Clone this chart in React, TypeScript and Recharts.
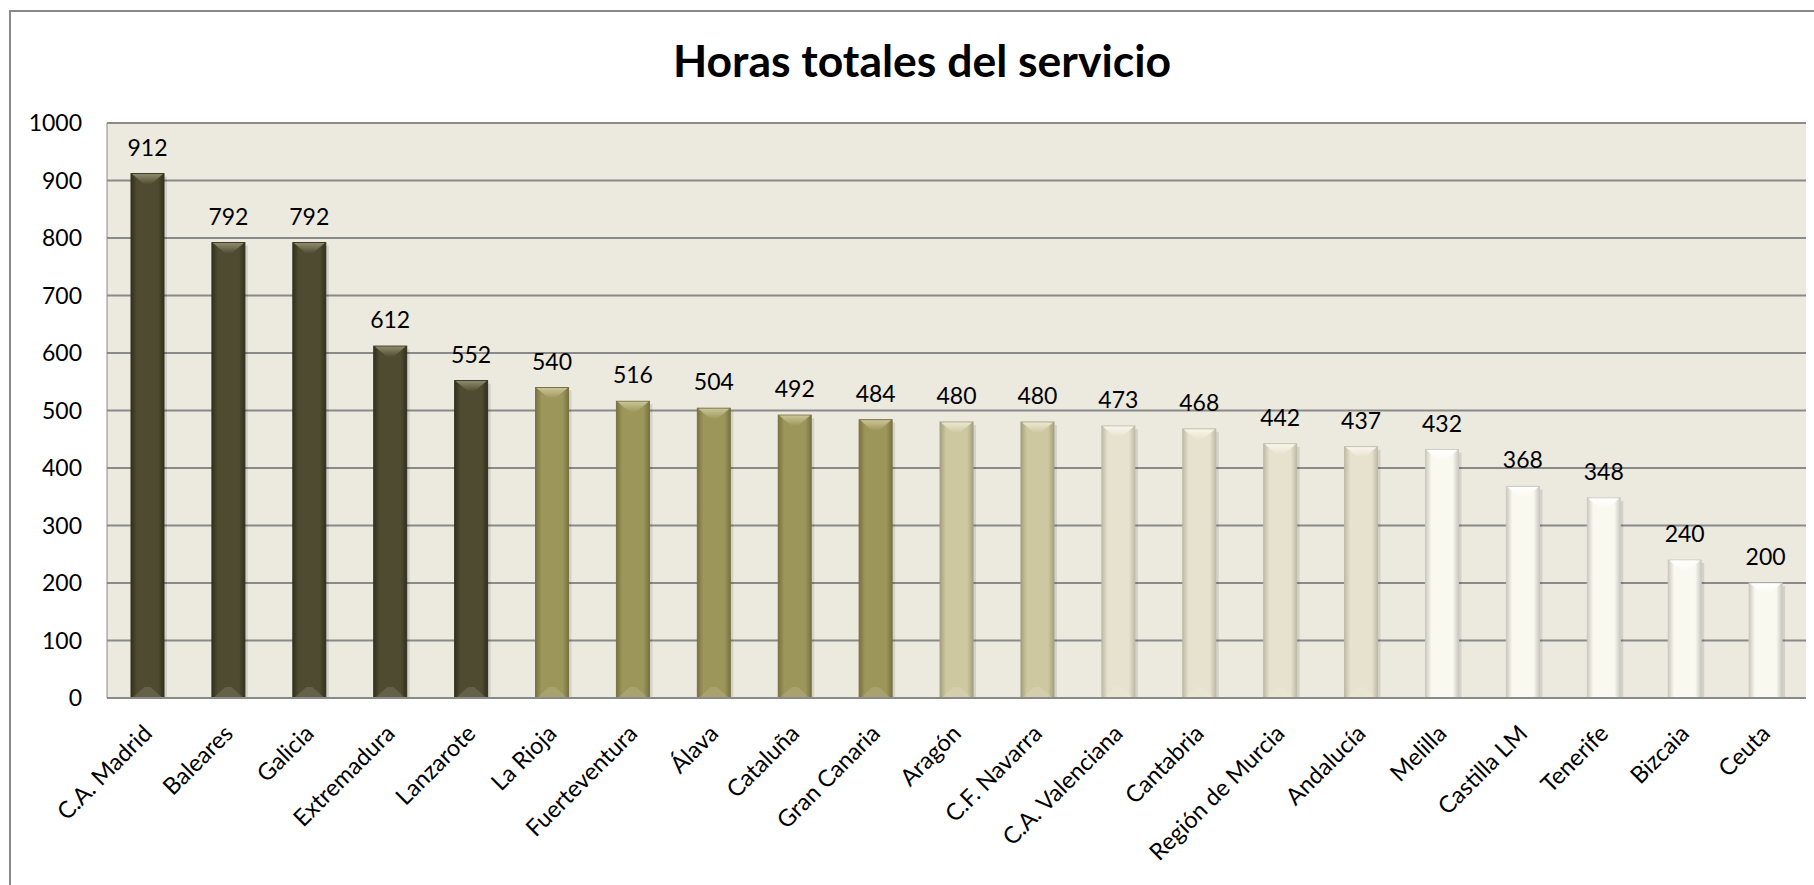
import React from 'react'
import { BarChart, Bar, XAxis, YAxis, CartesianGrid, LabelList } from 'recharts'

const regions = [
  'C.A. Madrid', 'Baleares', 'Galicia', 'Extremadura', 'Lanzarote',
  'La Rioja', 'Fuerteventura', 'Álava', 'Cataluña', 'Gran Canaria',
  'Aragón', 'C.F. Navarra', 'C.A. Valenciana', 'Cantabria', 'Región de Murcia',
  'Andalucía', 'Melilla', 'Castilla LM', 'Tenerife', 'Bizcaia', 'Ceuta',
]
const hours = [912, 792, 792, 612, 552, 540, 516, 504, 492, 484, 480, 480, 473, 468, 442, 437, 432, 368, 348, 240, 200]
// colour group of each bar (0 = darkest)
const shadeGroup = [0, 0, 0, 0, 0, 1, 1, 1, 1, 1, 2, 2, 3, 3, 3, 3, 4, 4, 4, 4, 4]
const yTicks = [0, 100, 200, 300, 400, 500, 600, 700, 800, 900, 1000]

const SHADES = [
  { base: '#4f4b30', edge: '#33311d', hi: '#8d8a6c' },
  { base: '#9d965a', edge: '#787241', hi: '#c9c496' },
  { base: '#cec8a1', edge: '#a5a07e', hi: '#ebe8d2' },
  { base: '#e6e2cd', edge: '#bfbba8', hi: '#f8f6ec' },
  { base: '#faf9f0', edge: '#cbcac0', hi: '#ffffff' },
]

const FONT = 'Lato, "Open Sans", sans-serif'
const GRID = '#8a8a8a'
const AXIS_Y = 698

const data = regions.map((r, i) => ({ region: r, hours: hours[i], group: shadeGroup[i] }))

function BevelBar(props: any) {
  const { x, y, width, height, index } = props
  if (height <= 0) return null
  const c = SHADES[shadeGroup[index]]
  const id = `bar${index}`
  const bev = Math.min(11, height / 2)
  const mid = x + width / 2
  return (
    <g>
      <defs>
        <linearGradient id={id + 'h'} x1="0" x2="1" y1="0" y2="0">
          <stop offset="0" stopColor={c.edge} />
          <stop offset="0.18" stopColor={c.base} />
          <stop offset="0.82" stopColor={c.base} />
          <stop offset="1" stopColor={c.edge} />
        </linearGradient>
        <linearGradient id={id + 't'} x1="0" x2="0" y1="0" y2="1">
          <stop offset="0" stopColor={c.hi} />
          <stop offset="1" stopColor={c.base} />
        </linearGradient>
      </defs>
      <rect x={x + 3} y={y + 3} width={width} height={height - 3} fill="#000" opacity={0.1} />
      <rect x={x} y={y} width={width} height={height} fill={`url(#${id}h)`} stroke={c.edge} strokeWidth={1} />
      <polygon
        points={`${x + 1},${y + 0.5} ${x + width - 1},${y + 0.5} ${mid + 3},${y + bev} ${mid - 3},${y + bev}`}
        fill={`url(#${id}t)`}
      />
      <polygon
        points={`${x + 1},${y + height} ${x + width - 1},${y + height} ${mid + 3},${y + height - bev} ${mid - 3},${y + height - bev}`}
        fill="#ffffff"
        opacity={0.12}
      />
    </g>
  )
}

function ValueLabel(props: any) {
  const { x, y, width, value } = props
  return (
    <text x={x + width / 2} y={y - 18} textAnchor="middle" fill="#000"
      style={{ fontSize: 23, fontFamily: FONT }}>
      {value}
    </text>
  )
}

function RegionTick(props: any) {
  const { x, payload } = props
  return (
    <text transform={`translate(${x + 6},${AXIS_Y + 37}) rotate(-45)`} textAnchor="end" fill="#000"
      style={{ fontSize: 23.5, fontFamily: FONT }}>
      {payload.value}
    </text>
  )
}

export default function App() {
  return (
    <div style={{ position: 'absolute', left: 0, top: 0, width: 1814, height: 885, overflow: 'hidden', background: '#fff' }}>
      <div style={{ position: 'absolute', left: 9, top: 10, width: 1900, height: 1000, border: '2px solid #888' }} />
      <BarChart
        width={1814}
        height={885}
        data={data}
        margin={{ top: 123, right: 8, bottom: 37, left: 47 }}
        style={{ position: 'absolute', left: 0, top: 0 }}
      >
        <CartesianGrid vertical={false} stroke={GRID} strokeWidth={2} fill="#ECE9DF" fillOpacity={1} />
        <XAxis
          dataKey="region"
          interval={0}
          height={150}
          tickLine={false}
          tickSize={0}
          axisLine={{ stroke: GRID, strokeWidth: 2 }}
          tick={<RegionTick />}
        />
        <YAxis
          width={60}
          domain={[0, 1000]}
          ticks={yTicks}
          interval={0}
          tickLine={false}
          tickSize={0}
          tickMargin={25}
          axisLine={{ stroke: GRID, strokeWidth: 1 }}
          tick={{ fill: '#000', fontSize: 23, fontFamily: FONT }}
        />
        <Bar dataKey="hours" barSize={33} shape={<BevelBar />} isAnimationActive={false}>
          <LabelList dataKey="hours" content={<ValueLabel />} />
        </Bar>
      </BarChart>
      <svg width={1814} height={885} style={{ position: 'absolute', left: 0, top: 0, pointerEvents: 'none' }}>
        <text x={922} y={77} textAnchor="middle" fill="#000"
          style={{ fontSize: 44.5, fontWeight: 700, fontFamily: FONT }}>
          Horas totales del servicio
        </text>
      </svg>
    </div>
  )
}
